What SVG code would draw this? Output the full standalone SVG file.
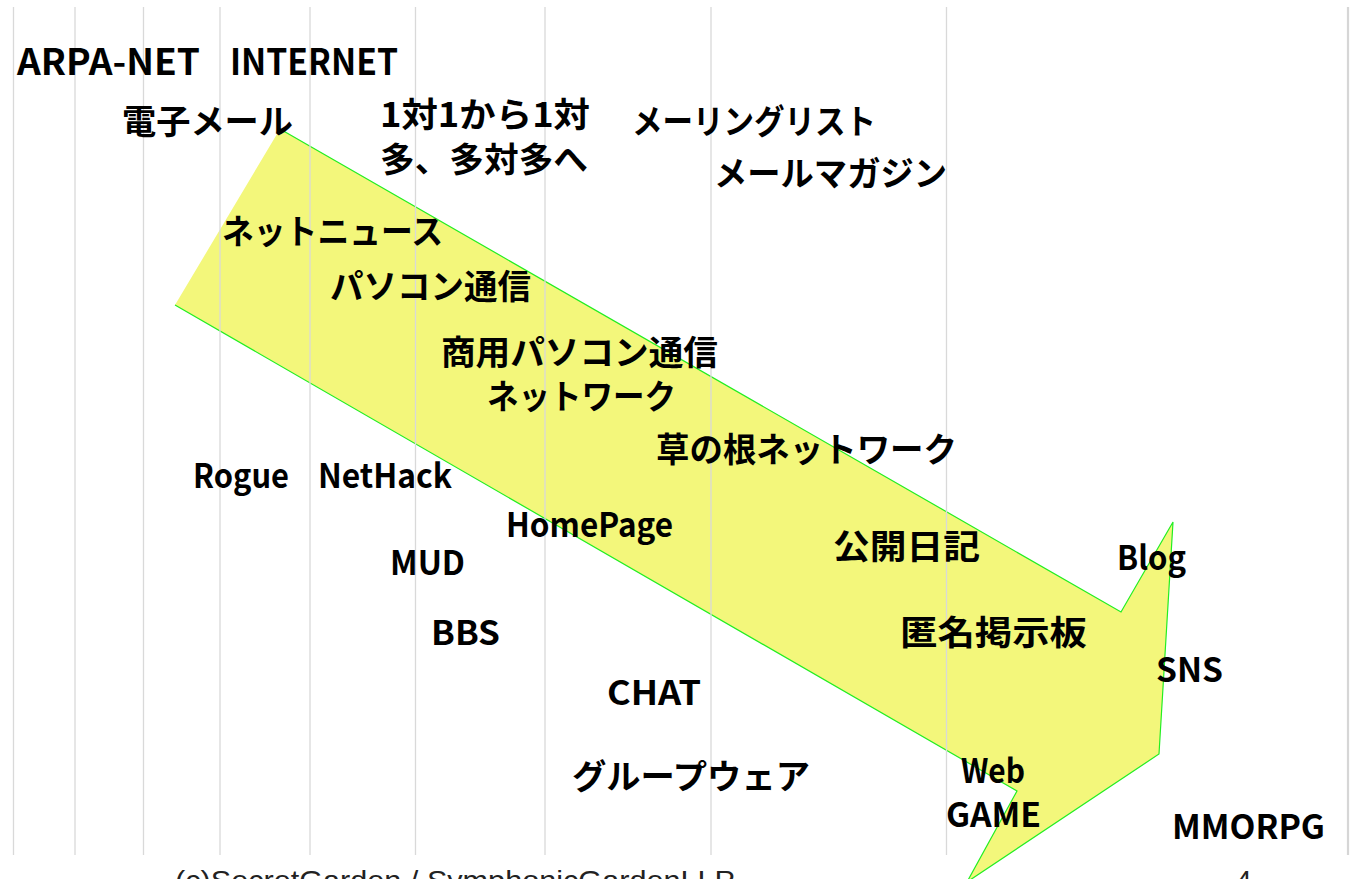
<svg xmlns="http://www.w3.org/2000/svg" width="1351" height="879" viewBox="0 0 1351 879">
<style>
.grid line{stroke:#d9d9d9;stroke-width:1.3}
.jp{font-family:"Noto Sans CJK JP","Noto Sans",sans-serif;font-weight:bold;font-size:34px;fill:#000}
.en{font-family:"Noto Sans CJK JP","Noto Sans",sans-serif;font-weight:bold;font-size:33px;fill:#000}
.big{font-size:36px}
.foot{font-family:"Liberation Sans",Arial,sans-serif;font-size:28px;fill:#222}
</style>
<rect width="1351" height="879" fill="#fff"/>
<g id="arrow">
<polygon points="280,129 1121,612 1173,522 1159,754 967,882 1017,791 175,305" fill="#f3f77b"/>
<polyline points="280,129 1121,612 1173,522 1159,754 967,882 1017,791 175,305" fill="none" stroke="#22ee22" stroke-width="1.2"/>
</g>
<g id="grid" class="grid">
<line x1="13.5" y1="7" x2="13.5" y2="855"/>
<line x1="75" y1="7" x2="75" y2="855"/>
<line x1="143.5" y1="7" x2="143.5" y2="855"/>
<line x1="220" y1="7" x2="220" y2="855"/>
<line x1="310" y1="7" x2="310" y2="855"/>
<line x1="415.5" y1="7" x2="415.5" y2="855"/>
<line x1="545" y1="7" x2="545" y2="855"/>
<line x1="711" y1="7" x2="711" y2="855"/>
<line x1="946.5" y1="7" x2="946.5" y2="855"/>
<line x1="1348" y1="7" x2="1348" y2="855" style="stroke-width:2.2;stroke:#d6d6d6"/>
</g>
<g id="labels">
<g id="arpanet"><text class="en big" x="17" y="75" textLength="183" lengthAdjust="spacingAndGlyphs">ARPA-NET</text></g>
<g id="internet"><text class="en big" x="230" y="75" textLength="168" lengthAdjust="spacingAndGlyphs">INTERNET</text></g>
<g id="email"><text class="jp" x="122" y="134" textLength="171" lengthAdjust="spacingAndGlyphs">電子メール</text></g>
<g id="one2many"><text class="jp" x="380" y="127" textLength="210" lengthAdjust="spacingAndGlyphs">1対1から1対</text><text class="jp" x="380" y="172" textLength="208" lengthAdjust="spacingAndGlyphs">多、多対多へ</text></g>
<g id="mlist"><text class="jp" x="632" y="134" textLength="244" lengthAdjust="spacingAndGlyphs">メーリングリスト</text></g>
<g id="mmag"><text class="jp" x="714" y="186" textLength="233" lengthAdjust="spacingAndGlyphs">メールマガジン</text></g>
<g id="netnews"><text class="jp" x="222" y="244" textLength="221" lengthAdjust="spacingAndGlyphs">ネットニュース</text></g>
<g id="pcnet"><text class="jp" x="330" y="299" textLength="201" lengthAdjust="spacingAndGlyphs">パソコン通信</text></g>
<g id="compcnet"><text class="jp" x="441" y="365" textLength="277" lengthAdjust="spacingAndGlyphs">商用パソコン通信</text><text class="jp" x="487" y="409" textLength="189" lengthAdjust="spacingAndGlyphs">ネットワーク</text></g>
<g id="grassroots"><text class="jp" x="656" y="462" textLength="301" lengthAdjust="spacingAndGlyphs">草の根ネットワーク</text></g>
<g id="rogue"><text class="en" x="193" y="488" textLength="96" lengthAdjust="spacingAndGlyphs">Rogue</text></g>
<g id="nethack"><text class="en" x="318" y="488" textLength="134" lengthAdjust="spacingAndGlyphs">NetHack</text></g>
<g id="homepage"><text class="en" x="506" y="537" textLength="167" lengthAdjust="spacingAndGlyphs">HomePage</text></g>
<g id="mud"><text class="en" x="390" y="575" textLength="75" lengthAdjust="spacingAndGlyphs">MUD</text></g>
<g id="diary"><text class="jp" x="833" y="559" textLength="147" lengthAdjust="spacingAndGlyphs">公開日記</text></g>
<g id="blog"><text class="en" x="1117" y="570" textLength="69" lengthAdjust="spacingAndGlyphs">Blog</text></g>
<g id="bbs"><text class="en" x="431" y="645" textLength="69" lengthAdjust="spacingAndGlyphs">BBS</text></g>
<g id="anonbbs"><text class="jp" x="900" y="645" textLength="187" lengthAdjust="spacingAndGlyphs">匿名掲示板</text></g>
<g id="sns"><text class="en" x="1156" y="682" textLength="67" lengthAdjust="spacingAndGlyphs">SNS</text></g>
<g id="chat"><text class="en" x="607" y="705" textLength="94" lengthAdjust="spacingAndGlyphs">CHAT</text></g>
<g id="groupware"><text class="jp" x="572" y="789" textLength="238" lengthAdjust="spacingAndGlyphs">グループウェア</text></g>
<g id="webgame"><text class="en" x="961" y="783" textLength="64" lengthAdjust="spacingAndGlyphs">Web</text><text class="en" x="946" y="827" textLength="95" lengthAdjust="spacingAndGlyphs">GAME</text></g>
<g id="mmorpg"><text class="en" x="1172" y="839" textLength="153" lengthAdjust="spacingAndGlyphs">MMORPG</text></g>
</g>
<g id="footer">
<text class="foot" x="175" y="890" textLength="560" lengthAdjust="spacingAndGlyphs">(c)SecretGarden / SymphonicGardenLLP</text>
<text class="foot" x="1236" y="890">4</text>
</g>
</svg>
